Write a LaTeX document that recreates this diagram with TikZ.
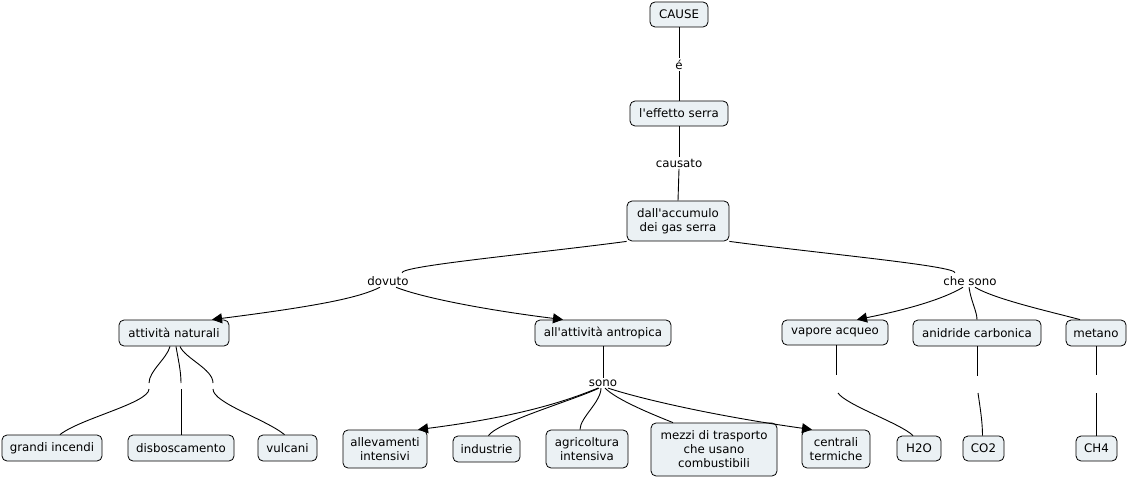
\documentclass[tikz,border=0pt]{standalone}
\usepackage{fontspec}
\setmainfont{DejaVu Sans}[Ligatures=TeXOff]
\usetikzlibrary{arrows.meta}
\definecolor{boxfill}{HTML}{EBF1F4}
\tikzset{
  concept/.style={draw=black, line width=0.8pt, fill=boxfill, rounded corners=5pt,
    align=center, inner sep=0pt, font=\fontsize{11.8}{14}\selectfont},
  linklabel/.style={inner sep=1.5pt, font=\fontsize{11.8}{14}\selectfont},
  conn/.style={line width=0.9pt, black},
  arr/.style={conn, -{Triangle[length=10pt,width=10pt]}}
}
\begin{document}
\begin{tikzpicture}[x=1pt,y=-1pt]
\useasboundingbox[fill=white] (0,0) rectangle (1129,478);
% concepts
\node[concept, minimum width=58, minimum height=25] (cause) at (679,14.5) {CAUSE};
\node[concept, minimum width=98, minimum height=25] (effetto) at (679,113.5) {l'effetto serra};
\node[concept, minimum width=102, minimum height=40] (acc) at (678,221) {dall'accumulo\\ dei gas serra};
\node[concept, minimum width=110, minimum height=26] (natur) at (174,333) {attività naturali};
\node[concept, minimum width=136, minimum height=26] (antrop) at (603,333) {all'attività antropica};
\node[concept, minimum width=106, minimum height=25] (vapore) at (835,332.5) {vapore acqueo};
\node[concept, minimum width=128, minimum height=26] (anid) at (977,333) {anidride carbonica};
\node[concept, minimum width=60, minimum height=26] (metano) at (1096,333) {metano};
\node[concept, minimum width=100, minimum height=26] (grandi) at (52,448) {grandi incendi};
\node[concept, minimum width=106, minimum height=26] (disbo) at (181,448) {disboscamento};
\node[concept, minimum width=59, minimum height=26] (vulc) at (287.5,448) {vulcani};
\node[concept, minimum width=84, minimum height=38] (alleva) at (385,449) {allevamenti\\intensivi};
\node[concept, minimum width=67, minimum height=26] (indu) at (486.5,449) {industrie};
\node[concept, minimum width=82, minimum height=38] (agri) at (587,449) {agricoltura\\intensiva};
\node[concept, minimum width=126, minimum height=53] (mezzi) at (714,449.5) {mezzi di trasporto\\che usano\\combustibili};
\node[concept, minimum width=68, minimum height=38] (centr) at (836,449) {centrali\\termiche};
\node[concept, minimum width=44, minimum height=25] (hho) at (919,448.5) {H2O};
\node[concept, minimum width=41, minimum height=25] (coo) at (983.5,448.5) {CO2};
\node[concept, minimum width=41, minimum height=25] (chf) at (1096.5,448.5) {CH4};
% link labels
\node[linklabel] (le) at (679,65) {é};
\node[linklabel] (lcaus) at (679,163) {causato};
\node[linklabel] (ldov) at (388,281) {dovuto};
\node[linklabel] (lche) at (970,281) {che sono};
\node[linklabel] (lsono) at (603,383) {sono};
% empty link points
\coordinate (n1a) at (149,383); \coordinate (n1b) at (149,389);
\coordinate (n2a) at (181,383); \coordinate (n2b) at (181,389);
\coordinate (n3a) at (213,383); \coordinate (n3b) at (213,389);
\coordinate (v1a) at (836,375); \coordinate (v1b) at (838,393);
\coordinate (c1a) at (977,376); \coordinate (c1b) at (978,393);
\coordinate (m1a) at (1096,375); \coordinate (m1b) at (1096,393);
% connectors top
\draw[conn] (cause.south) -- (le.north);
\draw[conn] (le.south) -- (effetto.north);
\draw[conn] (effetto.south) -- (lcaus.north);
\draw[conn] (lcaus.south) -- (acc.north);
% left branch
\draw[conn] (acc.south west) .. controls +(-90,12) and +(0,-7) .. ([xshift=14pt,yshift=2pt]ldov.north);
\draw[arr] ([xshift=-8pt]ldov.south) .. controls +(-20,10) and +(110,-14) .. ([xshift=38pt]natur.north);
\draw[arr] ([xshift=8pt]ldov.south) .. controls +(25,10) and +(-80,-10) .. ([xshift=-40pt]antrop.north);
% right branch
\draw[conn] (acc.south east) .. controls +(90,12) and +(0,-7) .. ([xshift=-15pt,yshift=2pt]lche.north);
\draw[arr] ([xshift=-7pt]lche.south) .. controls +(-20,12) and +(50,-10) .. ([xshift=22pt]vapore.north);
\draw[conn] ([xshift=-1pt]lche.south) .. controls +(2,14) and +(0,-8) .. (anid.north);
\draw[conn] ([xshift=5pt]lche.south) .. controls +(20,12) and +(-30,-8) .. ([xshift=-16pt]metano.north);
% sono branch
\draw[conn] (antrop.south) -- (lsono.north);
\draw[arr] ([xshift=-5pt]lsono.south) .. controls +(-25,10) and +(110,-14) .. ([xshift=33pt]alleva.north);
\draw[conn] ([xshift=-4pt]lsono.south) .. controls +(-25,12) and +(10,-14) .. ([xshift=2pt]indu.north);
\draw[conn] ([xshift=-2pt]lsono.south) .. controls +(0,14) and +(0,-12) .. ([xshift=-7pt]agri.north);
\draw[conn] ([xshift=2pt]lsono.south) .. controls +(12,12) and +(-20,-8) .. ([xshift=-41pt]mezzi.north);
\draw[arr] ([xshift=5pt]lsono.south) .. controls +(30,10) and +(-100,-14) .. ([xshift=-24pt]centr.north);
% natural causes
\draw[conn] ([xshift=-4pt]natur.south) .. controls +(-3,12) and +(0,-12) .. (n1a);
\draw[conn] (n1b) .. controls +(0,14) and +(20,-16) .. ([xshift=8pt]grandi.north);
\draw[conn] ([xshift=2pt]natur.south) .. controls +(2,12) and +(0,-12) .. (n2a);
\draw[conn] (n2b) -- (disbo.north);
\draw[conn] ([xshift=6pt]natur.south) .. controls +(5,12) and +(0,-14) .. (n3a);
\draw[conn] (n3b) .. controls +(0,14) and +(-20,-16) .. ([xshift=-3pt]vulc.north);
% gases
\draw[conn] ([xshift=1pt]vapore.south) -- (v1a);
\draw[conn] (v1b) .. controls +(8,12) and +(-12,-12) .. ([xshift=-6pt]hho.north);
\draw[conn] (anid.south) -- (c1a);
\draw[conn] (c1b) .. controls +(2,14) and +(0,-14) .. ([xshift=-1pt]coo.north);
\draw[conn] (metano.south) -- (m1a);
\draw[conn] (m1b) -- ([xshift=-0.5pt]chf.north);
\end{tikzpicture}
\end{document}
